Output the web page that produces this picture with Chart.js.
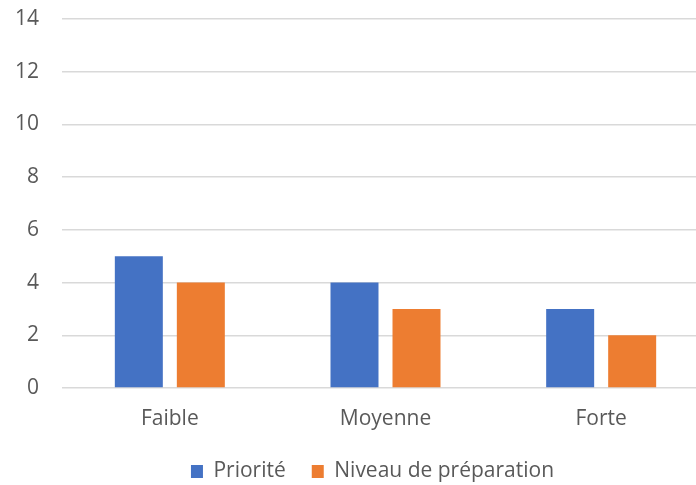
<!DOCTYPE html>
<html>
<head>
<meta charset="utf-8">
<script src="https://cdn.jsdelivr.net/npm/chart.js@4"></script>
<style>
  html, body { margin: 0; padding: 0; background: #fff; overflow: hidden; }
  #wrap { width: 696px; height: 485px; overflow: hidden; }
</style>
</head>
<body>
<!-- canvas is a bit wider than the window: the reference plot is cut at the right edge -->
<div id="wrap"><canvas id="chart" width="709" height="485"></canvas></div>
<script>
const categories = ["Faible", "Moyenne", "Forte"];
const priorite = [5, 4, 3];
const preparation = [4, 3, 2];

const textColor = "#595959";
const gridColor = "#d9d9d9";
const font = { family: "'Open Sans', sans-serif", size: 21 };

// nudge the legend right so it sits where the reference has it
const legendShift = {
  id: "legendShift",
  afterLayout(chart) {
    if (chart.legend) {
      chart.legend.left += 18;
      chart.legend.right += 18;
    }
  },
};

const ctx = document.getElementById("chart").getContext("2d");
new Chart(ctx, {
  type: "bar",
  data: {
    labels: categories,
    datasets: [
      {
        label: "Priorité",
        data: priorite,
        backgroundColor: "#4472c4",
        barPercentage: 0.774,
        categoryPercentage: 0.575,
      },
      {
        label: "Niveau de préparation",
        data: preparation,
        backgroundColor: "#ed7d31",
        barPercentage: 0.774,
        categoryPercentage: 0.575,
      },
    ],
  },
  options: {
    responsive: false,
    animation: false,
    layout: { padding: { top: 19, left: 0, right: 0, bottom: -7 } },
    scales: {
      x: {
        grid: { display: false, drawTicks: false },
        border: { display: false },
        ticks: { color: textColor, font: font, padding: 18 },
        afterFit: (s) => {
          s.paddingLeft = 0;
          s.paddingRight = 0;
          s.height = 47;
        },
      },
      y: {
        min: 0,
        max: 14,
        grid: { color: gridColor, lineWidth: 1.5, drawTicks: false },
        border: { display: false },
        ticks: { stepSize: 2, color: textColor, font: font, padding: 23 },
        afterFit: (s) => {
          s.width = 62;
          s.paddingTop = 0;
          s.paddingBottom = 0;
        },
      },
    },
    plugins: {
      legend: {
        position: "bottom",
        labels: {
          color: textColor,
          font: font,
          boxWidth: 12,
          boxHeight: 13,
          padding: 26,
        },
      },
      tooltip: { enabled: false },
    },
  },
  plugins: [legendShift],
});
</script>
</body>
</html>
